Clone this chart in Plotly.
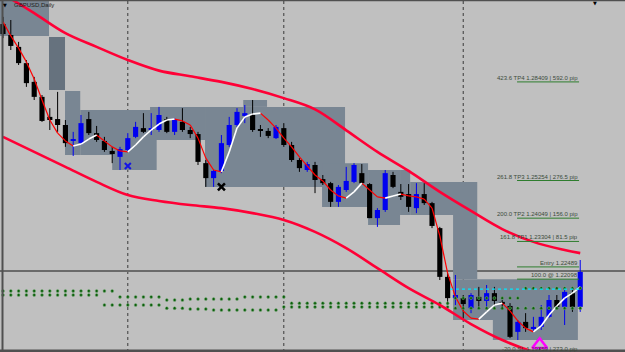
import plotly.graph_objects as go

# ---------------- data ----------------
opens = [1.3026, 1.2991, 1.2953, 1.2901, 1.2841, 1.2793, 1.2729, 1.2722, 1.2703, 1.2652,
         1.2645, 1.2722, 1.2677, 1.2652, 1.2620, 1.2601, 1.2623, 1.2665, 1.2693, 1.2687,
         1.2687, 1.2722, 1.2681, 1.2713, 1.2687, 1.2674, 1.2581, 1.2533, 1.2556, 1.2639,
         1.2703, 1.2732, 1.2735, 1.2690, 1.2684, 1.2661, 1.2693, 1.2639, 1.2591, 1.2559,
         1.2575, 1.2530, 1.2517, 1.2457, 1.2495, 1.2521, 1.2549, 1.2514, 1.2405, 1.2431,
         1.2543, 1.2489, 1.2482, 1.2437, 1.2482, 1.2453, 1.2373, 1.2217, 1.2149, 1.2149,
         1.2117, 1.2153, 1.2140, 1.2165, 1.2137, 1.2124, 1.2041, 1.2073, 1.2053, 1.2057,
         1.2089, 1.2143, 1.2121, 1.2165, 1.2121]
highs = [1.3049, 1.3039, 1.2969, 1.2911, 1.2857, 1.2799, 1.2757, 1.2809, 1.2719, 1.2681,
         1.2735, 1.2745, 1.2700, 1.2665, 1.2633, 1.2633, 1.2677, 1.2713, 1.2741, 1.2741,
         1.2761, 1.2729, 1.2725, 1.2757, 1.2697, 1.2681, 1.2591, 1.2559, 1.2671, 1.2729,
         1.2757, 1.2767, 1.2783, 1.2703, 1.2693, 1.2703, 1.2709, 1.2649, 1.2597, 1.2585,
         1.2585, 1.2543, 1.2521, 1.2511, 1.2569, 1.2581, 1.2578, 1.2517, 1.2437, 1.2559,
         1.2553, 1.2514, 1.2514, 1.2517, 1.2517, 1.2457, 1.2377, 1.2229, 1.2223, 1.2159,
         1.2165, 1.2185, 1.2191, 1.2185, 1.2143, 1.2133, 1.2079, 1.2101, 1.2089, 1.2127,
         1.2159, 1.2159, 1.2181, 1.2185, 1.2271]
lows = [1.2981, 1.2943, 1.2895, 1.2825, 1.2783, 1.2713, 1.2687, 1.2681, 1.2633, 1.2604,
        1.2639, 1.2671, 1.2649, 1.2617, 1.2581, 1.2559, 1.2617, 1.2661, 1.2677, 1.2671,
        1.2681, 1.2677, 1.2671, 1.2681, 1.2661, 1.2575, 1.2505, 1.2505, 1.2549, 1.2633,
        1.2697, 1.2709, 1.2681, 1.2665, 1.2661, 1.2658, 1.2633, 1.2585, 1.2553, 1.2553,
        1.2485, 1.2511, 1.2441, 1.2441, 1.2489, 1.2517, 1.2511, 1.2405, 1.2377, 1.2425,
        1.2501, 1.2463, 1.2425, 1.2421, 1.2447, 1.2373, 1.2207, 1.2127, 1.2127, 1.2079,
        1.2101, 1.2121, 1.2121, 1.2127, 1.2111, 1.2021, 1.2015, 1.2041, 1.2041, 1.2047,
        1.2085, 1.2111, 1.2063, 1.2105, 1.2105]
closes = [1.2994, 1.2956, 1.2901, 1.2837, 1.2793, 1.2716, 1.2719, 1.2703, 1.2645, 1.2658,
          1.2709, 1.2677, 1.2655, 1.2623, 1.2610, 1.2626, 1.2661, 1.2697, 1.2681, 1.2693,
          1.2735, 1.2681, 1.2719, 1.2687, 1.2674, 1.2585, 1.2533, 1.2556, 1.2645, 1.2703,
          1.2745, 1.2741, 1.2687, 1.2684, 1.2668, 1.2697, 1.2639, 1.2591, 1.2565, 1.2578,
          1.2527, 1.2517, 1.2457, 1.2505, 1.2524, 1.2575, 1.2517, 1.2405, 1.2431, 1.2549,
          1.2505, 1.2473, 1.2441, 1.2482, 1.2453, 1.2380, 1.2217, 1.2149, 1.2159, 1.2130,
          1.2159, 1.2140, 1.2165, 1.2140, 1.2130, 1.2025, 1.2073, 1.2053, 1.2057, 1.2089,
          1.2143, 1.2121, 1.2169, 1.2121, 1.2233]

fast_ma = [1.3033, 1.2988, 1.2949, 1.2905, 1.2850, 1.2783, 1.2719, 1.2677, 1.2652, 1.2636,
           1.2642, 1.2658, 1.2671, 1.2652, 1.2633, 1.2620, 1.2617, 1.2639, 1.2665, 1.2687,
           1.2706, 1.2719, 1.2722, 1.2716, 1.2703, 1.2661, 1.2597, 1.2559, 1.2553, 1.2617,
           1.2693, 1.2729, 1.2738, 1.2741, 1.2719, 1.2693, 1.2661, 1.2633, 1.2601, 1.2572,
           1.2543, 1.2524, 1.2495, 1.2476, 1.2469, 1.2489, 1.2517, 1.2495, 1.2473, 1.2469,
           1.2476, 1.2482, 1.2476, 1.2473, 1.2466, 1.2437, 1.2348, 1.2229, 1.2153, 1.2108,
           1.2085, 1.2082, 1.2105, 1.2127, 1.2133, 1.2108, 1.2076, 1.2053, 1.2041, 1.2060,
           1.2095, 1.2124, 1.2149, 1.2165, 1.2185]

band_idx = [0, 4, 8, 12, 16, 20, 24, 28, 32, 36, 40, 44, 48, 52, 56, 60, 64, 68, 72, 74]
upper_band = [1.3122, 1.3061, 1.2997, 1.2953, 1.2911, 1.2877, 1.2859, 1.2841, 1.2818, 1.2789,
              1.2753, 1.2686, 1.2617, 1.2556, 1.2489, 1.2428, 1.2370, 1.2329, 1.2303, 1.2293]
lower_idx = [0, 4, 8, 12, 16, 20, 24, 28, 32, 36, 40, 44, 48, 52, 56, 60, 64, 68, 72]
lower_band = [1.2665, 1.2617, 1.2569, 1.2521, 1.2479, 1.2460, 1.2447, 1.2437, 1.2421, 1.2399,
              1.2361, 1.2309, 1.2245, 1.2181, 1.2127, 1.2066, 1.2015, 1.1977, 1.1951]

dots_upper = [1.2172, 1.2172, 1.2172, 1.2172, 1.2172, 1.2172, 1.2172, 1.2172, 1.2172, 1.2172,
              1.2172, 1.2172, 1.2172, 1.2172, 1.2172, 1.2153, 1.2153, 1.2153, 1.2153, 1.2153,
              1.2153, 1.2143, 1.2143, 1.2143, 1.2146, 1.2146, 1.2146, 1.2146, 1.2146, 1.2146,
              1.2146, 1.2153, 1.2153, 1.2153, 1.2153, 1.2153, 1.2153, 1.2133, 1.2133, 1.2133,
              1.2133, 1.2133, 1.2133, 1.2133, 1.2133, 1.2133, 1.2133, 1.2133, 1.2133, 1.2133,
              1.2133, 1.2133, 1.2133, 1.2133, 1.2133, 1.2133, 1.2133, 1.2133, 1.2149, 1.2149,
              1.2149, 1.2149, 1.2149, 1.2149, 1.2149, 1.2149, 1.2149, 1.2181, 1.2181, 1.2181,
              1.2181, 1.2181, 1.2181, 1.2181, 1.2181]
dots_lower = [1.2159, 1.2159, 1.2159, 1.2159, 1.2159, 1.2159, 1.2159, 1.2159, 1.2159, 1.2159,
              1.2159, 1.2159, 1.2159, 1.2127, 1.2127, 1.2127, 1.2127, 1.2127, 1.2127, 1.2127,
              1.2127, 1.2117, 1.2117, 1.2117, 1.2114, 1.2114, 1.2114, 1.2111, 1.2111, 1.2111,
              1.2111, 1.2111, 1.2111, 1.2111, 1.2111, 1.2111, 1.2121, 1.2121, 1.2121, 1.2121,
              1.2121, 1.2121, 1.2121, 1.2121, 1.2121, 1.2121, 1.2121, 1.2121, 1.2121, 1.2121,
              1.2121, 1.2121, 1.2121, 1.2121, 1.2121, 1.2121, 1.2121, 1.2121, 1.2117, 1.2117,
              1.2117, 1.2117, 1.2117, 1.2117, 1.2117, 1.2117, 1.2117, 1.2117, 1.2117, 1.2117,
              1.2117, 1.2117, 1.2117, 1.2117, 1.2117]

# range boxes: start index, end index, top price, bottom price
box_x0 = [-0.5, 5.9, 7.95, 9.9, 14.0, 18.85, 25.9, 30.8, 40.9, 46.8, 50.9, 52.2, 57.7, 57.7, 62.8]
box_x1 = [5.9, 7.95, 9.9, 19.7, 19.7, 25.9, 43.85, 33.85, 46.8, 50.9, 52.2, 60.8, 60.8, 73.7, 73.7]
box_top = [1.3150, 1.2985, 1.2812, 1.2751, 1.2607, 1.2761, 1.2761, 1.2783, 1.2581, 1.2559,
           1.2559, 1.2521, 1.2415, 1.22098, 1.2079]
box_bot = [1.2988, 1.2815, 1.2607, 1.2607, 1.2559, 1.2655, 1.2505, 1.2761, 1.2441, 1.2383,
           1.2415, 1.2415, 1.2210, 1.2079, 1.20147]
box_dark = [False, True, False, False, False, False, False, False, False, False,
            False, False, False, False, False]

fib_labels = ["423.6 TP4 1.28409 | 592.0 pip", "261.8 TP3 1.25254 | 276.5 pip",
              "200.0 TP2 1.24049 | 156.0 pip", "161.8 TP1 1.23304 | 81.5 pip",
              "Entry 1.22489", "100.0 @ 1.22098"]
fib_prices = [1.28409, 1.25254, 1.24049, 1.23304, 1.22489, 1.22098]
sl_label = "-20.0 SL 1.19759 | 273.0 pip"
fib_start, fib_end = 65.9, 73.85

separators = [16, 36, 59]
hline_price = 1.22358
cyan_line = (57.3, 74.0, 1.2178)

# ---------------- figure ----------------
BG = "#C0C0C0"
FONT = "Liberation Sans, Arial"
fig = go.Figure()

shapes = []
for x0, x1, t, b, dk in zip(box_x0, box_x1, box_top, box_bot, box_dark):
    shapes.append(dict(type="rect", xref="x", yref="y", x0=x0, x1=x1, y0=b, y1=t,
                       fillcolor="#66727E" if dk else "#798693", line=dict(width=0),
                       layer="below"))
for s in separators:
    shapes.append(dict(type="line", xref="x", yref="paper", x0=s, x1=s, y0=0, y1=1,
                       line=dict(color="#3A3A3A", width=1, dash="dot"), layer="below"))
shapes.append(dict(type="line", xref="paper", yref="y", x0=0, x1=1, y0=hline_price,
                   y1=hline_price, line=dict(color="#6A6A6A", width=2), layer="below"))
# fib lines
for p in fib_prices:
    shapes.append(dict(type="line", xref="x", yref="y", x0=fib_start, x1=fib_end, y0=p, y1=p,
                       line=dict(color="#2E7D2E", width=1)))

# candles
idx = list(range(len(opens)))
for bull, col in ((False, "#000000"), (True, "#0000F0")):
    sel = [i for i in idx if (closes[i] > opens[i]) == bull]
    wx, wy = [], []
    for i in sel:
        wx += [i, i, None]
        wy += [lows[i], highs[i], None]
    fig.add_trace(go.Scatter(x=wx, y=wy, mode="lines", line=dict(color=col, width=1),
                             hoverinfo="skip"))
    fig.add_trace(go.Bar(x=sel, base=[min(opens[i], closes[i]) for i in sel],
                         y=[max(abs(opens[i] - closes[i]), 0.0004) for i in sel],
                         width=0.66, marker=dict(color=col, line=dict(width=0)),
                         hoverinfo="skip"))

# fast MA coloured by slope
rx, ry, wx2, wy2 = [], [], [], []
for i in range(len(fast_ma) - 1):
    if fast_ma[i + 1] > fast_ma[i]:
        wx2 += [i, i + 1, None]; wy2 += [fast_ma[i], fast_ma[i + 1], None]
    else:
        rx += [i, i + 1, None]; ry += [fast_ma[i], fast_ma[i + 1], None]
fig.add_trace(go.Scatter(x=rx, y=ry, mode="lines", line=dict(color="#FF0000", width=1.2)))
fig.add_trace(go.Scatter(x=wx2, y=wy2, mode="lines", line=dict(color="#FFFFFF", width=1.6)))

# dots
fig.add_trace(go.Scatter(x=idx + idx, y=dots_upper + dots_lower, mode="markers",
                         marker=dict(color="#0B5E0B", size=3, line=dict(color="#7FAF7F", width=0.5))))

# cyan dotted
fig.add_trace(go.Scatter(x=[cyan_line[0], cyan_line[1]], y=[cyan_line[2], cyan_line[2]],
                         mode="lines", line=dict(color="#00E8FF", width=1.2, dash="dot")))

# bands
fig.add_trace(go.Scatter(x=band_idx, y=upper_band, mode="lines", line_shape="spline",
                         line=dict(color="#FF0036", width=2.6)))
fig.add_trace(go.Scatter(x=lower_idx, y=lower_band, mode="lines", line_shape="spline",
                         line=dict(color="#FF0036", width=2.6)))

# markers
fig.add_trace(go.Scatter(x=[16], y=[1.2572], mode="markers",
                         marker=dict(symbol="x-thin-open", size=6, color="#1414E6",
                                     line=dict(color="#1414E6", width=2))))
fig.add_trace(go.Scatter(x=[28], y=[1.2505], mode="markers",
                         marker=dict(symbol="x-thin-open", size=7, color="#000000",
                                     line=dict(color="#000000", width=2.5))))
fig.add_trace(go.Scatter(x=[68.8], y=[1.2000], mode="markers",
                         marker=dict(symbol="triangle-up-open", size=13, color="#FF00FF",
                                     line=dict(color="#FF00FF", width=2.5))))
fig.add_trace(go.Scatter(x=[68.8], y=[1.1990], mode="markers",
                         marker=dict(symbol="arrow-up", size=8, color="#006400", line=dict(width=0))))

annotations = []
for lab, p in zip(fib_labels, fib_prices):
    annotations.append(dict(x=fib_end, y=p, xref="x", yref="y", text=lab, showarrow=False,
                            xanchor="right", yanchor="bottom", borderpad=0, yshift=0,
                            font=dict(family=FONT, size=6, color="#3B4B3B")))
annotations.append(dict(x=(3 + 7.8 * fib_end) / 625, y=-0.004, xref="paper", yref="paper",
                        text=sl_label, showarrow=False, xanchor="right", yanchor="bottom",
                        borderpad=0, font=dict(family=FONT, size=6, color="#3B4B3B")))
annotations.append(dict(x=12 / 625, y=1 - 5 / 352, xref="paper", yref="paper", text="GBPUSD,Daily",
                        showarrow=False, xanchor="left", yanchor="middle",
                        font=dict(family=FONT, size=6, color="#202020")))
annotations.append(dict(x=5 / 625, y=1 - 5 / 352, xref="paper", yref="paper", text="▼",
                        showarrow=False, xanchor="center", yanchor="middle",
                        font=dict(family="DejaVu Sans", size=5, color="#000000")))
annotations.append(dict(x=595 / 625, y=1 - 3 / 352, xref="paper", yref="paper", text="▼",
                        showarrow=False, xanchor="center", yanchor="middle",
                        font=dict(family="DejaVu Sans", size=5, color="#000000")))

# frame (drawn above the bottom label)
shapes.append(dict(type="line", xref="paper", yref="paper", x0=0.004, x1=0.004, y0=0, y1=1,
                   line=dict(color="#505050", width=2)))
shapes.append(dict(type="line", xref="paper", yref="paper", x0=0, x1=1, y0=0.999, y1=0.999,
                   line=dict(color="#505050", width=2)))
shapes.append(dict(type="line", xref="paper", yref="paper", x0=0, x1=1, y0=0.003, y1=0.003,
                   line=dict(color="#505050", width=3)))

fig.update_layout(width=625, height=352, margin=dict(l=0, r=0, t=0, b=0),
                  paper_bgcolor=BG, plot_bgcolor=BG, showlegend=False, barmode="overlay",
                  shapes=shapes, annotations=annotations,
                  xaxis=dict(range=[-0.385, 79.74], visible=False, fixedrange=True),
                  yaxis=dict(range=[1.19766, 1.3103], visible=False, fixedrange=True))
fig.write_html("out.html")
